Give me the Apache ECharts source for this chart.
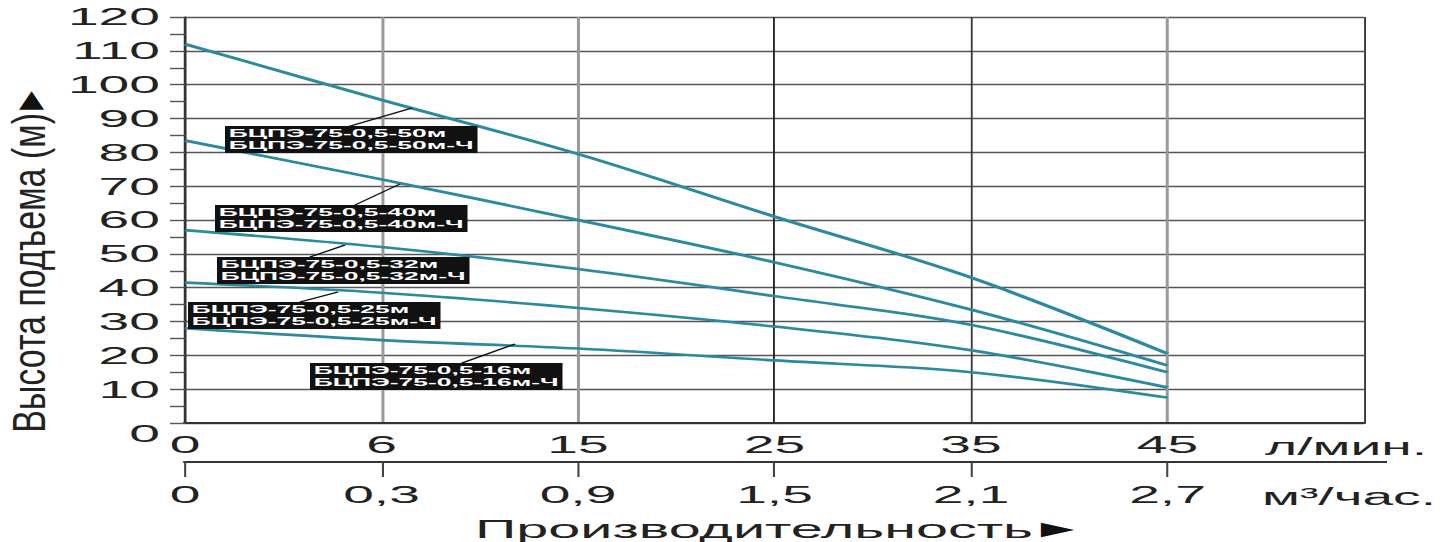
<!DOCTYPE html>
<html>
<head>
<meta charset="utf-8">
<script src="https://cdn.jsdelivr.net/npm/echarts@6.0.0/dist/echarts.min.js"></script>
<style>
html,body{margin:0;padding:0;background:#fff;overflow:hidden;width:1446px;height:542px;}
#c{height:542px;transform-origin:0 0;}
</style>
</head>
<body>
<div id="c"></div>
<script>
// ---- data ----
const flowLpm = ['0', '6', '15', '25', '35', '45', ''];
const flowM3h = ['0', '0,3', '0,9', '1,5', '2,1', '2,7', ''];
const yTicks = [0, 120, 10];
const head50 = [112, 95.5, 79.5, 61, 43, 20.5];
const head40 = [83.5, 72, 60, 47.5, 33.5, 17];
const head32 = [57, 52, 45.5, 37.5, 29, 15];
const head25 = [41.5, 38.5, 34, 28.5, 21.5, 10.5];
const head16 = [28, 24.5, 22, 18.5, 15, 7.5];
const models = [
  'БЦПЭ-75-0,5-50м\nБЦПЭ-75-0,5-50м-Ч',
  'БЦПЭ-75-0,5-40м\nБЦПЭ-75-0,5-40м-Ч',
  'БЦПЭ-75-0,5-32м\nБЦПЭ-75-0,5-32м-Ч',
  'БЦПЭ-75-0,5-25м\nБЦПЭ-75-0,5-25м-Ч',
  'БЦПЭ-75-0,5-16м\nБЦПЭ-75-0,5-16м-Ч'
];
const yName = 'Высота подъема (м)';
const xName = 'Производительность';
const unitLpm = 'л/мин.';
const unitM3h = 'м³/час.';

// ---- layout (horizontal stretch of the whole picture) ----
const S = 2.3;
const W = 1446 / S;
const el = document.getElementById('c');
el.style.width = W + 'px';
el.style.transform = 'scaleX(' + S + ')';
const X = px => px / S;
const FONT = '"Liberation Sans", Arial, sans-serif';
const CURVE = '#2b8aa0';

const chart = echarts.init(el, null, {renderer: 'svg', width: W, height: 542});

const seriesData = [head50, head40, head32, head25, head16];

// label boxes (screen px) and leader lines
const boxes = [[225, 126], [215, 205], [217, 257], [188, 302], [310, 363]];
const leaders = [
  [347, 127, 412, 108],
  [355, 205, 400, 184],
  [310, 257, 345, 245],
  [300, 302, 338, 292],
  [462, 363, 515, 344]
];

const graphics = [];
leaders.forEach(l => graphics.push({
  type: 'line', z: 50,
  shape: {x1: X(l[0]), y1: l[1], x2: X(l[2]), y2: l[3]},
  style: {stroke: '#111', lineWidth: 1.1}
}));
models.forEach((t, i) => graphics.push({
  type: 'text', z: 60,
  x: X(boxes[i][0]), y: boxes[i][1],
  style: {
    text: t, fill: '#fff', fontSize: 11.5, fontWeight: 'bold', fontFamily: FONT,
    backgroundColor: '#111', padding: [1.5, 1.6], lineHeight: 12,
    align: 'left', verticalAlign: 'top'
  }
}));
// y axis title (rotated)
graphics.push({
  type: 'text', z: 10,
  x: X(29), y: 262, rotation: Math.PI / 2, scaleX: 1, scaleY: 0.59,
  style: {
    text: '{t|' + yName + '} {a|▶}',
    align: 'center', verticalAlign: 'middle',
    rich: {
      t: {fontSize: 34, fontFamily: FONT, fill: '#222'},
      a: {fontSize: 24, fontFamily: '"DejaVu Sans"', fill: '#111'}
    }
  }
});
// x axis title
graphics.push({
  type: 'text', z: 10,
  x: X(475), y: 529,
  style: {
    text: '{t|' + xName + '} {a|▶}',
    align: 'left', verticalAlign: 'middle',
    rich: {
      t: {fontSize: 25, fontFamily: FONT, fill: '#222'},
      a: {fontSize: 19, fontFamily: '"DejaVu Sans"', fill: '#111'}
    }
  }
});
// units
graphics.push({
  type: 'text', x: X(1265), y: 447,
  style: {text: unitLpm, fontSize: 24, fontFamily: FONT, fill: '#222', align: 'left', verticalAlign: 'middle'}
});
graphics.push({
  type: 'text', x: X(1262), y: 497,
  style: {text: unitM3h, fontSize: 24, fontFamily: FONT, fill: '#222', align: 'left', verticalAlign: 'middle'}
});
// extension of the lower scale line
graphics.push({
  type: 'line', shape: {x1: X(1362), y1: 462, x2: X(1387), y2: 462},
  style: {stroke: '#333', lineWidth: 2}
});

const option = {
  animation: false,
  backgroundColor: '#fff',
  grid: {left: X(185), right: (1446 - 1364) / S, top: 17, bottom: 119, containLabel: false},
  xAxis: [{
    type: 'category', boundaryGap: false, data: flowLpm, position: 'bottom',
    axisLine: {show: true, lineStyle: {color: '#333', width: 2}},
    axisTick: {show: false},
    axisLabel: {interval: 0, margin: 10, fontSize: 24, fontFamily: FONT, color: '#222'},
    splitLine: {show: true, interval: 0, lineStyle: {
      color: ['rgba(0,0,0,0)', '#9a9a9a', '#9a9a9a', 'rgba(0,0,0,0)', 'rgba(0,0,0,0)', '#9a9a9a', 'rgba(0,0,0,0)'],
      width: 1.3}}
  }, {
    type: 'category', boundaryGap: false, data: flowM3h, position: 'bottom', offset: 39,
    axisLine: {show: true, lineStyle: {color: '#333', width: 2}},
    axisTick: {show: true, length: 15, interval: (i, v) => v !== '', lineStyle: {color: '#444', width: 0.9}},
    axisLabel: {interval: 0, margin: 21, fontSize: 24, fontFamily: FONT, color: '#222'},
    splitLine: {show: true, interval: 0, lineStyle: {
      color: ['rgba(0,0,0,0)', 'rgba(0,0,0,0)', 'rgba(0,0,0,0)', '#222', '#3a3a3a', 'rgba(0,0,0,0)', '#333'],
      width: 0.8}}
  }],
  yAxis: {
    type: 'value', min: yTicks[0], max: yTicks[1], interval: yTicks[2],
    axisLine: {show: true, lineStyle: {color: '#333', width: 1.2}},
    axisTick: {show: true, length: X(15), lineStyle: {color: '#555', width: 1.4}},
    minorTick: {show: true, splitNumber: 2, length: X(15), lineStyle: {color: '#555', width: 1.4}},
    axisLabel: {
      margin: X(25), fontSize: 24, fontFamily: FONT, color: '#222',
      formatter: v => v === 0 ? '{z|0}' : String(v),
      rich: {z: {fontSize: 24, fontFamily: FONT, color: '#222', padding: [22, 0, 0, 0]}}
    },
    splitLine: {show: true, lineStyle: {color: '#555', width: 1.4}}
  },
  series: seriesData.map((d, i) => ({
    type: 'line', name: models[i].split('\n')[0], xAxisIndex: 0, data: d,
    smooth: 0.35, symbol: 'none', z: 5,
    lineStyle: {color: CURVE, width: 2.6}
  })),
  graphic: graphics
};
chart.setOption(option);
</script>
</body>
</html>
